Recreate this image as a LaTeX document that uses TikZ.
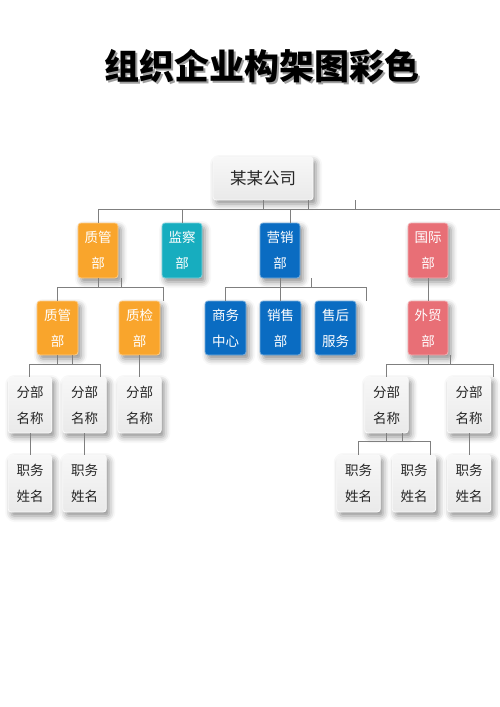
\documentclass[tikz,border=0pt]{standalone}
\usepackage{fontspec}
\newfontfamily\cjk{Noto Sans CJK SC}
\usetikzlibrary{shadows.blur}
\definecolor{cOrange}{HTML}{F9A52C}
\definecolor{cTeal}{HTML}{17ADBF}
\definecolor{cBlue}{HTML}{0A6CC2}
\definecolor{cRed}{HTML}{E86F76}
\definecolor{cLine}{HTML}{7F7F7F}
\definecolor{cText}{HTML}{262626}
\tikzset{
  x=1pt,y=1pt,
  boxbase/.style={rounded corners=3pt, line width=0.8pt, inner sep=0pt, align=center,
    blur shadow={shadow xshift=3pt, shadow yshift=-4pt, shadow blur radius=6pt, shadow opacity=45}},
  colbox/.style={boxbase, fill=#1, draw=#1!55!white, text=white,
    minimum width=40pt, minimum height=55pt, font=\cjk\fontsize{13.5}{26}\selectfont},
  graybox/.style={boxbase, top color=gray!6, bottom color=gray!17, draw=gray!4,
    text=cText, minimum width=43.5pt, minimum height=56pt, font=\cjk\fontsize{13.5}{26}\selectfont},
  conn/.style={draw=cLine, line width=0.9pt},
  titlefont/.style={font=\cjk\bfseries\fontsize{35}{40}\selectfont}
}
\begin{document}
\begin{tikzpicture}
\useasboundingbox (0,0) rectangle (500,-707);
% title
\node[titlefont, text=gray!75] (ttlsh) at (264.2,-68.2) {组织企业构架图彩色};
\node[titlefont, text=black] (ttl) at (262,-66) {组织企业构架图彩色};
% root
\node[graybox, minimum width=100pt, minimum height=43pt, font=\cjk\fontsize{16.5}{20}\selectfont] (root) at (263,-178.5) {某某公司};
% level 1
\node[colbox=cOrange] (zg1) at (98,-250.5) {质管\\部};
\node[colbox=cTeal] (jc) at (182,-250.5) {监察\\部};
\node[colbox=cBlue] (yx) at (280,-250.5) {营销\\部};
\node[colbox=cRed] (gj) at (428,-250.5) {国际\\部};
% level 2
\node[colbox=cOrange, minimum width=41pt, minimum height=54pt] (zg2) at (57.5,-328) {质管\\部};
\node[colbox=cOrange, minimum width=41pt, minimum height=54pt] (zj) at (139.5,-328) {质检\\部};
\node[colbox=cBlue, minimum width=41pt, minimum height=54pt] (sw) at (225.5,-328) {商务\\中心};
\node[colbox=cBlue, minimum width=41pt, minimum height=54pt] (xs) at (280.5,-328) {销售\\部};
\node[colbox=cBlue, minimum width=41pt, minimum height=54pt] (sh) at (335.5,-328) {售后\\服务};
\node[colbox=cRed, minimum width=40pt, minimum height=54pt] (wm) at (428,-328) {外贸\\部};
% level 3
\node[graybox] (f1) at (30,-405) {分部\\名称};
\node[graybox] (f2) at (84.5,-405) {分部\\名称};
\node[graybox] (f3) at (139.5,-405) {分部\\名称};
\node[graybox] (fA) at (386.5,-405) {分部\\名称};
\node[graybox] (fB) at (469,-405) {分部\\名称};
% level 4
\node[graybox, minimum height=57pt] (p1) at (30,-483.5) {职务\\姓名};
\node[graybox, minimum height=57pt] (p2) at (84.5,-483.5) {职务\\姓名};
\node[graybox, minimum height=57pt] (pA) at (358.5,-483.5) {职务\\姓名};
\node[graybox, minimum height=57pt] (pB) at (414,-483.5) {职务\\姓名};
\node[graybox, minimum height=57pt] (pC) at (469,-483.5) {职务\\姓名};
% ---- connectors
% root bus
\coordinate (b0l) at (98,-209);
\coordinate (b0r) at (500,-209);
\coordinate (tick0) at (355,-200);
\draw[conn] (b0l) -- (b0r);
\draw[conn] (root.south) -- (root.south |- b0l);
\draw[conn] ([xshift=45pt]root.south) -- ([xshift=45pt]root.south |- b0l);
\draw[conn] (tick0) -- (tick0 |- b0l);
\draw[conn] (zg1.north |- b0l) -- (zg1.north);
\draw[conn] (jc.north |- b0l) -- (jc.north);
\draw[conn] ([xshift=10pt]yx.north |- b0l) -- ([xshift=10pt]yx.north);
% 国际 -> 外贸
\draw[conn] (gj.south) -- (wm.north);
% 质管 L1 bus
\coordinate (b1l) at (57.5,-287);
\coordinate (b1r) at (163,-287);
\draw[conn] (b1l) -- (b1r);
\draw[conn] (zg1.south) -- (zg1.south |- b1l);
\draw[conn] ([xshift=23pt]zg1.south) -- ([xshift=23pt]zg1.south |- b1l);
\draw[conn] (b1l) -- (zg2.north);
\draw[conn] (b1r) -- (b1r |- zj.north);
% 营销 bus
\coordinate (b2l) at (225.5,-287);
\coordinate (b2r) at (366,-287);
\draw[conn] (b2l) -- (b2r);
\draw[conn] (yx.south) -- (yx.south |- b2l);
\draw[conn] ([xshift=31pt]yx.south) -- ([xshift=31pt]yx.south |- b2l);
\draw[conn] (b2l) -- (sw.north);
\draw[conn] (xs.north |- b2l) -- (xs.north);
\draw[conn] (b2r) -- (b2r |- sh.north);
% 质管 L2 bus
\coordinate (b3l) at (29,-364);
\coordinate (b3r) at (100,-364);
\draw[conn] (b3l) -- (b3r);
\draw[conn] (zg2.south) -- (zg2.south |- b3l);
\draw[conn] ([xshift=14.5pt]zg2.south) -- ([xshift=14.5pt]zg2.south |- b3l);
\draw[conn] (b3l) -- (b3l |- f1.north);
\draw[conn] (b3r) -- (b3r |- f2.north);
% 质检 -> f3
\draw[conn] (zj.south) -- (f3.north);
% 外贸 bus
\coordinate (b4l) at (386.5,-364);
\coordinate (b4r) at (493,-364);
\draw[conn] (b4l) -- (b4r);
\draw[conn] (wm.south) -- (wm.south |- b4l);
\draw[conn] ([xshift=22pt]wm.south) -- ([xshift=22pt]wm.south |- b4l);
\draw[conn] (b4l) -- (fA.north);
\draw[conn] (b4r) -- (b4r |- fB.north);
% f -> p
\draw[conn] (f1.south) -- (p1.north);
\draw[conn] (f2.south) -- (p2.north);
\draw[conn] (fB.south) -- (pC.north);
% fA bus
\coordinate (b5l) at (358.5,-441);
\coordinate (b5r) at (430,-441);
\draw[conn] (b5l) -- (b5r);
\draw[conn] (fA.south) -- (fA.south |- b5l);
\draw[conn] ([xshift=15.5pt]fA.south) -- ([xshift=15.5pt]fA.south |- b5l);
\draw[conn] (b5l) -- (pA.north);
\draw[conn] (b5r) -- (b5r |- pB.north);
\end{tikzpicture}
\end{document}
